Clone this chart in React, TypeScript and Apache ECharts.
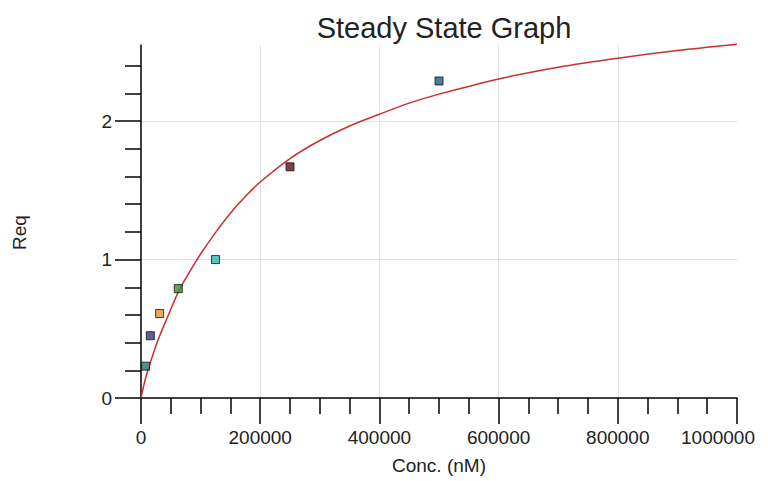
import React, { useEffect, useRef } from "react";
import * as echarts from "echarts";

const titleText = "Steady State Graph";
const xAxisName = "Conc. (nM)";
const yAxisName = "Req";

// measured points
const pointConc = [7812.5, 15625, 31250, 62500, 125000, 250000, 500000];
const pointReq = [0.23, 0.45, 0.61, 0.79, 1.0, 1.67, 2.29];
const pointColors = ["#1e7b6e", "#35357f", "#f0903a", "#3b8e3f", "#30b8b8", "#5c1020", "#1c5a8c"];

// fitted curve
const curveConc = [0, 7500, 17500, 30000, 45000, 62500, 80000, 100000, 125000, 150000, 175000, 200000, 250000, 300000, 350000, 400000, 450000, 500000, 600000, 700000, 800000, 900000, 1000000];
const curveReq = [0, 0.14, 0.28, 0.435, 0.59, 0.765, 0.9, 1.04, 1.195, 1.335, 1.455, 1.56, 1.73, 1.86, 1.965, 2.05, 2.13, 2.195, 2.305, 2.39, 2.455, 2.51, 2.555];

const xMax = 1000000;
const yMajorTicks = [0, 1, 2];
const yMinorTicks = [0.2, 0.4, 0.6, 0.8, 1.2, 1.4, 1.6, 1.8, 2.2, 2.4];

const FONT = "'Liberation Sans', Arial, sans-serif";

export default function App() {
  const ref = useRef<HTMLDivElement>(null);
  useEffect(() => {
    if (!ref.current) return;
    const chart = echarts.init(ref.current, null, { renderer: "svg" });
    const grid = "#e2e2e2";
    const labelStyle = { fontFamily: FONT, fontSize: 19, color: "#222" };
    chart.setOption({
      animation: false,
      backgroundColor: "#ffffff",
      title: {
        text: titleText,
        left: 439,
        top: 8,
        textAlign: "center",
        textStyle: { fontFamily: FONT, fontSize: 29, fontWeight: "normal", color: "#222" },
      },
      grid: { left: 141, right: 31, top: 45, bottom: 83, containLabel: false, outerBoundsMode: "none" },
      xAxis: [
        {
          type: "value",
          min: 0,
          max: xMax,
          interval: 200000,
          name: xAxisName,
          nameLocation: "middle",
          nameGap: 58,
          nameTextStyle: labelStyle,
          axisLine: { show: true, lineStyle: { color: "#000", width: 1.5 } },
          axisTick: { show: true, length: 26, lineStyle: { color: "#000", width: 1.5 } },
          minorTick: { show: true, splitNumber: 4, length: 16, lineStyle: { color: "#000", width: 1.5 } },
          axisLabel: {
            ...labelStyle,
            margin: 30,
            formatter: (v: number) => (v === xMax ? "{m|" + String(v) + "}" : String(v)),
            rich: { m: { ...labelStyle, padding: [0, 38, 0, 0] } },
          },
          splitLine: {
            show: true,
            lineStyle: { color: ["transparent", grid, grid, grid, grid, "transparent"], width: 1 },
          },
        },
      ],
      yAxis: [
        {
          type: "value",
          min: 0,
          max: 2.55,
          interval: 1,
          name: yAxisName,
          nameLocation: "middle",
          nameGap: 112,
          nameTextStyle: { ...labelStyle, padding: [0, 22, 0, 0] },
          axisLine: { show: true, lineStyle: { color: "#000", width: 1.5 } },
          axisTick: { show: true, length: 26, customValues: yMajorTicks, lineStyle: { color: "#000", width: 1.5 } },
          axisLabel: { ...labelStyle, margin: 29, customValues: yMajorTicks },
          splitLine: {
            show: true,
            lineStyle: { color: ["transparent", grid, grid, "transparent"], width: 1 },
          },
        },
        {
          type: "value",
          min: 0,
          max: 2.55,
          position: "left",
          axisLine: { show: false },
          axisTick: { show: true, length: 16, customValues: yMinorTicks, lineStyle: { color: "#000", width: 1.5 } },
          axisLabel: { show: false },
          splitLine: { show: false },
        },
      ],
      series: [
        {
          type: "line",
          data: curveConc.map((c, i) => [c, curveReq[i]]),
          smooth: 0.3,
          symbol: "none",
          clip: false,
          lineStyle: { color: "#c83030", width: 1.5 },
          z: 2,
        },
        {
          type: "scatter",
          symbol: "rect",
          symbolSize: 8,
          data: pointConc.map((c, i) => ({
            value: [c, pointReq[i]],
            itemStyle: { color: pointColors[i], borderColor: "#111", borderWidth: 1 },
          })),
          z: 3,
        },
      ],
    });
    return () => chart.dispose();
  }, []);
  return <div ref={ref} style={{ position: "fixed", left: 0, top: 0, width: 768, height: 481 }} />;
}
